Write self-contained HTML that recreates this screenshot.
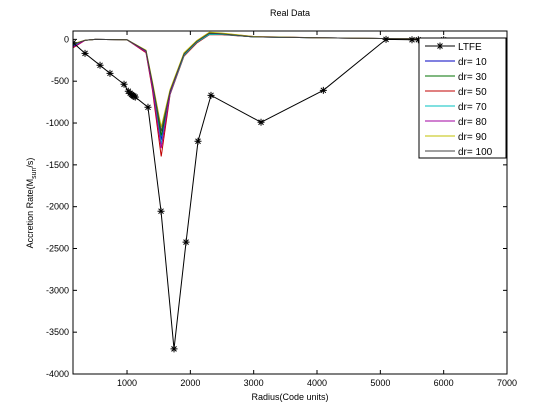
<!DOCTYPE html>
<html><head><meta charset="utf-8"><style>
body{margin:0;background:#fff;}
svg{display:block;font-family:"Liberation Sans",Arial,sans-serif;}
</style></head><body>
<svg id="c" width="560" height="420">
<rect x="0" y="0" width="560" height="420" fill="#fff"/>
</svg>
<script>
const xTicks=[1000,2000,3000,4000,5000,6000,7000];
const yTicks=[0,-500,-1000,-1500,-2000,-2500,-3000,-3500,-4000];
const ltfeX=[150,337,574,731,953,1020,1050,1070,1090,1110,1130,1331,1537,1742,1932,2121,2326,3116,4100,5090,5500,5600,6000,7000];
const ltfeY=[-40,-167,-310,-406,-537,-620,-645,-660,-670,-680,-690,-812,-2054,-3700,-2424,-1218,-669,-991,-609,0,-5,-5,-5,0];
const drX=[150,340,500,1000,1300,1400,1540,1680,1900,2100,2300,2500,3000,4000,5000,6000,7000];
const dr10=[-80,-10,0,-5,-140,-550,-1200,-650,-190,-40,60,60,30,20,10,5,0];
const dr30=[-60,-10,0,-5,-150,-540,-1150,-640,-180,-30,65,60,30,20,10,5,0];
const dr50=[-100,-10,0,-5,-160,-600,-1400,-660,-200,-45,55,55,30,20,10,5,0];
const dr70=[-70,-10,0,-5,-145,-560,-1250,-650,-190,-35,60,60,30,20,10,5,0];
const dr80=[-90,-10,0,-5,-150,-570,-1300,-640,-170,-20,80,70,35,20,10,5,0];
const dr90=[-50,-10,0,-5,-130,-500,-1050,-600,-160,-15,85,75,35,20,10,5,0];
const dr100=[-60,-10,0,-5,-135,-520,-1100,-620,-175,-25,75,65,30,20,10,5,0];
const series=[["dr= 10","#0000c0",dr10],["dr= 30","#007000",dr30],["dr= 50","#c00000",dr50],["dr= 70","#00c0c0",dr70],["dr= 80","#a000a0",dr80],["dr= 90","#c0c000",dr90],["dr= 100","#404040",dr100]];
const svg=document.getElementById('c');
const NS="http://www.w3.org/2000/svg";
const L=73,R=507,T=31,B=374,XMIN=147,XMAX=7000,YMIN=-4000,YMAX=100;
function sx(v){return L+(v-XMIN)/(XMAX-XMIN)*(R-L);}
function sy(v){return B-(v-YMIN)/(YMAX-YMIN)*(B-T);}
function el(t,a,p){const e=document.createElementNS(NS,t);for(const k in a)e.setAttribute(k,a[k]);(p||svg).appendChild(e);return e;}
const clip=el('clipPath',{id:'pc'});el('rect',{x:L,y:T,width:R-L,height:B-T},clip);
xTicks.forEach(v=>{const x=sx(v);
const g=el('g',{});


el('line',{x1:x,y1:B,x2:x,y2:B-4,stroke:'#000'},g);el('line',{x1:x,y1:T,x2:x,y2:T+4,stroke:'#000'},g);
const t=el('text',{x:x,y:B+12,'font-size':'9','text-anchor':'middle'},g);t.textContent=v;});
yTicks.forEach(v=>{const y=sy(v);
const g=el('g',{});


el('line',{x1:L,y1:y,x2:L+4,y2:y,stroke:'#000'},g);el('line',{x1:R,y1:y,x2:R-4,y2:y,stroke:'#000'},g);
const t=el('text',{x:L-4,y:y+3,'font-size':'9','text-anchor':'end'},g);t.textContent=v;});
const pg=el('g',{'clip-path':'url(#pc)'});
series.forEach(s=>{const p=el('polyline',{points:drX.map((x,i)=>sx(x)+','+sy(s[2][i])).join(' '),fill:'none',stroke:s[1],'stroke-width':'1'},pg);

});
const lp=el('polyline',{points:ltfeX.map((x,i)=>sx(x)+','+sy(ltfeY[i])).join(' '),fill:'none',stroke:'#000','stroke-width':'1'},pg);


function star(x,y,g){const r=3.5,d=2.5;
return el('path',{d:`M${x-r},${y}H${x+r}M${x},${y-r}V${y+r}M${x-d},${y-d}L${x+d},${y+d}M${x-d},${y+d}L${x+d},${y-d}`,stroke:'#000','stroke-width':'1',fill:'none'},g);}
ltfeX.forEach((x,i)=>{if(x<7000){const s=star(sx(x),sy(ltfeY[i]),pg);

}});
el('rect',{x:L,y:T,width:R-L,height:B-T,fill:'none',stroke:'#000'});
const lg=el('g',{});


el('rect',{x:419,y:38,width:87,height:120,fill:'#fff',stroke:'#000'},lg);
const items=[["LTFE","#000"]].concat(series.map(s=>[s[0],s[1]]));
items.forEach((it,i)=>{const y=46+i*15;
const g=el('g',{},lg);


el('line',{x1:425,y1:y,x2:455,y2:y,stroke:it[1]},g);
if(i===0)star(440,y,g);
const t=el('text',{x:458,y:y+4,'font-size':'10'},g);t.textContent=it[0];});
const tt=el('text',{x:290,y:16,'font-size':'9','text-anchor':'middle'});tt.textContent='Real Data';

const xt=el('text',{x:290,y:400,'font-size':'9','text-anchor':'middle'});xt.textContent='Radius(Code units)';

const yt=el('text',{x:0,y:0,'font-size':'9','text-anchor':'middle',transform:'translate(33,203) rotate(-90)'});
yt.innerHTML='Accretion Rate(M<tspan dy="3" font-size="7">sun</tspan><tspan dy="-3">/s)</tspan>';

</script>
</body></html>
